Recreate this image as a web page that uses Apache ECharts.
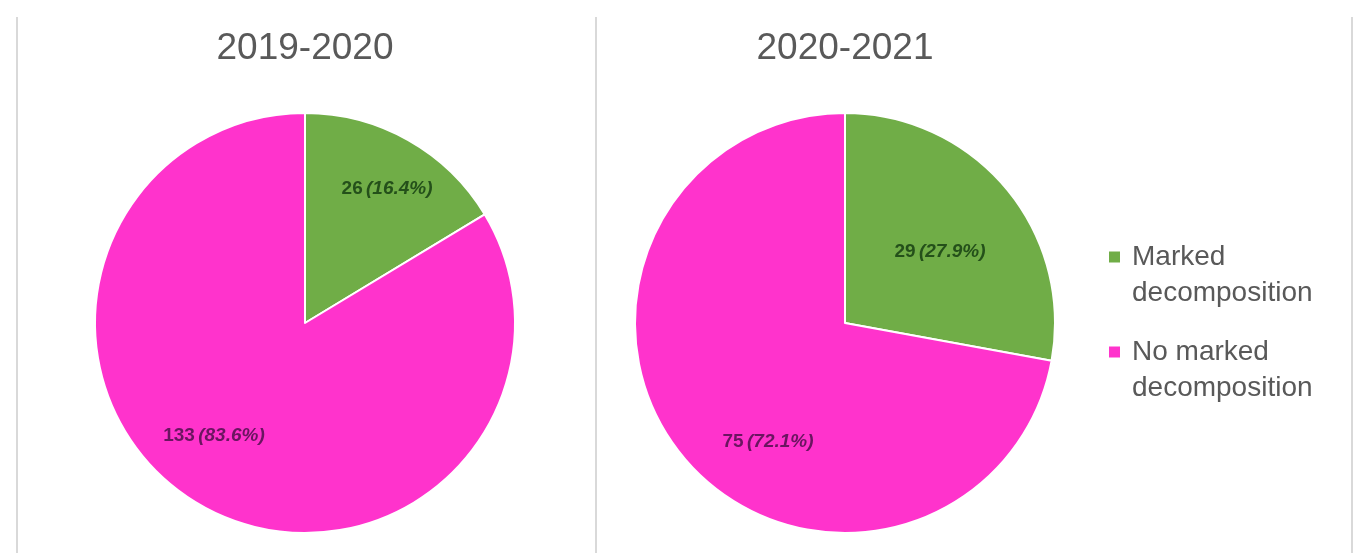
<!DOCTYPE html>
<html>
<head>
<meta charset="utf-8">
<script src="https://cdn.jsdelivr.net/npm/echarts@6/dist/echarts.min.js"></script>
<style>
html,body{margin:0;padding:0;background:#fff;}
#chart{width:1361px;height:553px;}
</style>
</head>
<body>
<div id="chart"></div>
<script>
const categories = ['Marked decomposition', 'No marked decomposition'];
const periods = ['2019-2020', '2020-2021'];
const values2019 = [26, 133];
const values2020 = [29, 75];

const colors = ['#70ad47', '#ff33cc'];
const labelColors = ['#24501a', '#6a1560'];
const FONT = '"Liberation Sans", Arial, sans-serif';

function makeData(vals) {
  const total = vals.reduce((a, b) => a + b, 0);
  return vals.map((v, i) => ({
    name: categories[i],
    value: v,
    pct: (v / total * 100).toFixed(1),
    itemStyle: { color: colors[i] },
    label: {
      rich: {
        n: { fontSize: 19, fontWeight: 'bold', color: labelColors[i], fontFamily: FONT },
        p: { fontSize: 19, fontWeight: 'bold', fontStyle: 'italic', color: labelColors[i], fontFamily: FONT }
      }
    }
  }));
}

const d1 = makeData(values2019);
const d2 = makeData(values2020);

// label nudges (dx, dy) relative to the default inside position
const nudges = [
  [[29, -40], [-38, 19]],
  [[12, -2], [6, 50]]
];

function pieSeries(data, cx, idx) {
  return {
    type: 'pie',
    silent: true,
    center: [cx, 323],
    radius: [0, 210],
    startAngle: 90,
    clockwise: true,
    itemStyle: { borderColor: '#ffffff', borderWidth: 2 },
    label: {
      show: true,
      position: 'inside',
      formatter: p => '{n|' + p.value + '} {p|(' + data[p.dataIndex].pct + '%)}'
    },
    labelLayout: p => ({ dx: nudges[idx][p.dataIndex][0], dy: nudges[idx][p.dataIndex][1] }),
    data: data.map(d => ({ name: d.name, value: d.value, itemStyle: d.itemStyle, label: d.label }))
  };
}

const chart = echarts.init(document.getElementById('chart'), null, { renderer: 'canvas' });
const lineStyle = { stroke: '#d9d9d9', lineWidth: 2 };
chart.setOption({
  animation: false,
  backgroundColor: '#ffffff',
  title: [
    { text: periods[0], left: 305, top: 30, textAlign: 'center', padding: 0,
      textStyle: { fontSize: 37, fontWeight: 'normal', color: '#595959', fontFamily: FONT } },
    { text: periods[1], left: 845, top: 30, textAlign: 'center', padding: 0,
      textStyle: { fontSize: 37, fontWeight: 'normal', color: '#595959', fontFamily: FONT } }
  ],
  legend: {
    data: categories,
    orient: 'vertical',
    left: 1107,
    top: 203,
    padding: 0,
    itemWidth: 13,
    itemHeight: 13,
    itemGap: -13,
    icon: 'rect',
    selectedMode: false,
    formatter: name => '\n' + name.replace(' decomposition', '\ndecomposition'),
    textStyle: { fontSize: 28, lineHeight: 36, color: '#595959', fontFamily: FONT, padding: [0, 0, 0, 6] }
  },
  graphic: [
    { type: 'line', silent: true, shape: { x1: 17, y1: 17, x2: 17, y2: 553 }, style: lineStyle },
    { type: 'line', silent: true, shape: { x1: 596, y1: 17, x2: 596, y2: 553 }, style: lineStyle },
    { type: 'line', silent: true, shape: { x1: 1352, y1: 17, x2: 1352, y2: 553 }, style: lineStyle }
  ],
  series: [pieSeries(d1, 305, 0), pieSeries(d2, 845, 1)]
});
</script>
</body>
</html>
